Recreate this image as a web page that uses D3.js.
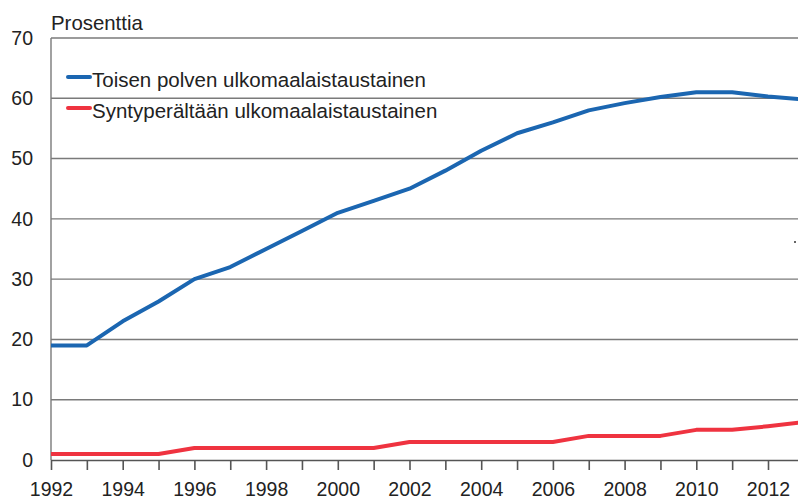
<!DOCTYPE html>
<html>
<head>
<meta charset="utf-8">
<script src="https://cdn.jsdelivr.net/npm/d3@7"></script>
<style>
html,body{margin:0;padding:0;background:#fff;}
svg{display:block;font-family:"Liberation Sans",Arial,sans-serif;}
</style>
</head>
<body>
<svg id="chart" width="798" height="499"></svg>
<script>
const years = [1992,1993,1994,1995,1996,1997,1998,1999,2000,2001,2002,2003,2004,2005,2006,2007,2008,2009,2010,2011,2012,2013];
const toisenPolven = [19,19,23,26.3,30,32,35,38,41,43,45,48,51.3,54.2,56,58,59.2,60.2,61,61,60.3,59.8];
const syntyperaltaan = [1,1,1,1,2,2,2,2,2,2,3,3,3,3,3,4,4,4,5,5,5.6,6.3];
const seriesNames = ["Toisen polven ulkomaalaistaustainen","Syntyperältään ulkomaalaistaustainen"];
const seriesColors = ["#1b66b1","#ef3340"];
const yTicks = [0,10,20,30,40,50,60,70];
const xLabelYears = [1992,1994,1996,1998,2000,2002,2004,2006,2008,2010,2012];
const yTitle = "Prosenttia";

(function () {
const svg = d3.select("#chart");
const mLeft = 51, mTop = 38, mBottom = 460;
const x = d3.scaleLinear().domain([1992, 2013]).range([mLeft, mLeft + 21*35.85]);
const y = d3.scaleLinear().domain([0, 70]).range([mBottom, mTop]);

// gridlines
svg.append("g").selectAll("line").data(yTicks.filter(d => d > 0)).join("line")
  .attr("x1", mLeft).attr("x2", 798)
  .attr("y1", d => y(d)).attr("y2", d => y(d))
  .attr("stroke", "#7a7a7a").attr("stroke-width", 1.4);

// y axis
const yAxis = d3.axisLeft(y).tickValues(yTicks).tickSize(0).tickPadding(18).tickFormat(d3.format("d"));
const gy = svg.append("g").attr("transform", `translate(${mLeft},0)`).call(yAxis);
gy.select(".domain").remove();
gy.selectAll("text").attr("font-size", 19.5).attr("fill", "#222").attr("font-family", "Liberation Sans, Arial, sans-serif");
svg.append("line").attr("x1", mLeft).attr("x2", mLeft).attr("y1", mTop).attr("y2", mBottom)
  .attr("stroke", "#7a7a7a").attr("stroke-width", 1.4);

// x axis
const xAxis = d3.axisBottom(x).tickValues(d3.range(1992, 2013)).tickSize(10).tickPadding(12)
  .tickFormat(d => xLabelYears.includes(d) ? String(d) : "");
const gx = svg.append("g").attr("transform", `translate(0,${mBottom})`).call(xAxis);
gx.select(".domain").attr("d", `M${mLeft},0.5H798`).attr("stroke", "#555").attr("stroke-width", 1.6);
gx.selectAll(".tick line").attr("stroke", "#555").attr("stroke-width", 1.6);
gx.selectAll("text").attr("font-size", 19.5).attr("fill", "#222").attr("font-family", "Liberation Sans, Arial, sans-serif");

// axis title
svg.append("text").attr("x", mLeft).attr("y", 30).attr("font-size", 20.4).attr("fill", "#222").text(yTitle);

// lines
const line = d3.line().x((d, i) => x(years[i])).y(d => y(d));
[toisenPolven, syntyperaltaan].forEach((s, k) => {
  svg.append("path").datum(s).attr("d", line).attr("fill", "none")
    .attr("stroke", seriesColors[k]).attr("stroke-width", 4).attr("stroke-linejoin", "round");
});

// legend
const legY = [77, 108];
seriesNames.forEach((n, k) => {
  svg.append("line").attr("x1", 68).attr("x2", 90).attr("y1", legY[k]).attr("y2", legY[k])
    .attr("stroke", seriesColors[k]).attr("stroke-width", 4).attr("stroke-linecap", "round");
  svg.append("text").attr("x", 92).attr("y", legY[k] + 9.5).attr("font-size", 20.5).attr("fill", "#222").text(n);
});

// small stray dot
svg.append("rect").attr("x", 794).attr("y", 241).attr("width", 2).attr("height", 2).attr("fill", "#666");
})();
</script>
</body>
</html>
